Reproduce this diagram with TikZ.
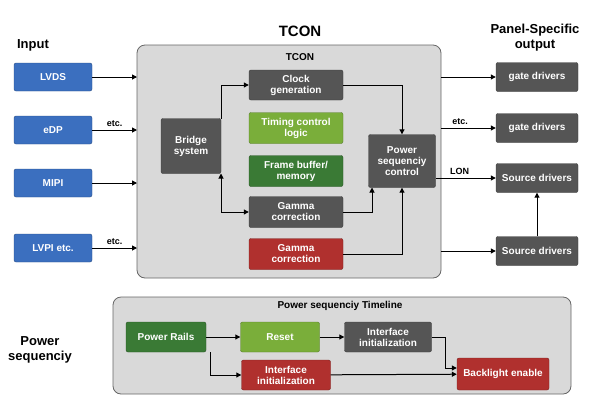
\documentclass[tikz,border=0pt]{standalone}
\usepackage{fontspec}
\setmainfont{Liberation Sans}
\usetikzlibrary{arrows.meta}
\definecolor{bl}{HTML}{3B6FBF}
\definecolor{dg}{HTML}{555555}
\definecolor{lg}{HTML}{7AAE3A}
\definecolor{gg}{HTML}{3A7A35}
\definecolor{rd}{HTML}{B0302E}
\begin{document}
\begin{tikzpicture}[x=1pt,y=-1pt,
 box/.style={draw=#1!70!black,fill=#1,rounded corners=2pt,text=white,font=\bfseries\fontsize{10}{11}\selectfont,align=center,inner sep=1pt},
 panel/.style={draw=gray!80!black,fill=gray!30,rounded corners=8pt,line width=0.8pt},
 ar/.style={-{Triangle[length=5pt,width=5pt]},line width=1pt},
 ttl/.style={font=\bfseries\fontsize{13}{15}\selectfont,align=center},
 lab/.style={font=\bfseries\fontsize{9}{10}\selectfont}]
\useasboundingbox (0,0) rectangle (600,400);
\node[ttl] (tin) at (33,45) {Input};
\node[ttl,font=\bfseries\fontsize{15}{17}\selectfont] (ttc) at (300,31) {TCON};
\node[ttl] (tout) at (535,38) {Panel-Specific\\output};
\node[ttl] (tps) at (40,350) {Power\\sequenciy};
\draw[panel] (137,45) rectangle (441,278);
\node[lab,font=\bfseries\fontsize{10}{11}\selectfont] (pt) at (300,57) {TCON};
% inputs
\node[box=bl,minimum width=78,minimum height=28] (lvds) at (53,77) {LVDS};
\node[box=bl,minimum width=78,minimum height=28] (edp) at (53,130) {eDP};
\node[box=bl,minimum width=78,minimum height=28] (mipi) at (53,183) {MIPI};
\node[box=bl,minimum width=78,minimum height=28] (lvpi) at (53,248) {LVPI etc.};
\coordinate (i1) at (137,77);\coordinate (i2) at (137,130);\coordinate (i3) at (137,183);\coordinate (i4) at (137,248);
\draw[ar] (lvds) -- (i1);
\draw[ar] (edp) -- node[lab,above]{etc.} (i2);
\draw[ar] (mipi) -- (i3);
\draw[ar] (lvpi) -- node[lab,above]{etc.} (i4);
% inner
\node[box=dg,minimum width=60,minimum height=55] (br) at (191,146) {Bridge\\system};
\node[box=dg,minimum width=94,minimum height=30] (clk) at (296,85) {Clock\\generation};
\node[box=lg,minimum width=94,minimum height=31] (tim) at (296,128) {Timing control\\logic};
\node[box=gg,minimum width=94,minimum height=31] (fb) at (296,171) {Frame buffer/\\memory};
\node[box=dg,minimum width=94,minimum height=31] (gm) at (296,212) {Gamma\\correction};
\node[box=rd,minimum width=94,minimum height=31] (gr) at (296,254) {Gamma\\correction};
\node[box=dg,minimum width=67,minimum height=53] (psc) at (402,161) {Power\\sequenciy\\control};
\draw[ar] (221,118.5) -- (221,85) -- (clk.west);
\draw[ar] (221,212) -- (221,173.5);
\draw[ar] (221,185) |- (gm.west);
\draw[ar] (clk.east) -| (psc.north);
\draw[ar] (gm.east) -| (372,187.5);
\draw[ar] (gr.east) -| (psc.south);
% outputs
\node[box=dg,minimum width=82,minimum height=29] (g1) at (537,77) {gate drivers};
\node[box=dg,minimum width=82,minimum height=29] (g2) at (537,128) {gate drivers};
\node[box=dg,minimum width=82,minimum height=29] (s1) at (537,178) {Source drivers};
\node[box=dg,minimum width=82,minimum height=29] (s2) at (537,251) {Source drivers};
\coordinate (o1) at (441,77);\coordinate (o2) at (441,128);\coordinate (o4) at (441,251);
\draw[ar] (o1) -- (g1);
\draw[ar] (o2) -- node[lab,above,pos=0.35]{etc.} (g2);
\draw[ar] (psc.east|-s1) -- node[lab,above,pos=0.4]{LON} (s1);
\draw[ar] (o4) -- (s2);
\draw[ar] (s2) -- (s1);
% bottom
\draw[panel] (113,297) rectangle (571,394);
\node[lab,font=\bfseries\fontsize{10}{11}\selectfont] (bt) at (340,306) {Power sequenciy Timeline};
\node[box=gg,minimum width=80,minimum height=30] (pr) at (166,337) {Power Rails};
\node[box=lg,minimum width=79,minimum height=30] (rs) at (280,337) {Reset};
\node[box=dg,minimum width=87,minimum height=30] (ii) at (388,337) {Interface\\initialization};
\node[box=rd,minimum width=89,minimum height=30] (ir) at (286,375) {Interface\\initialization};
\node[box=rd,minimum width=92,minimum height=32] (bk) at (503,374) {Backlight enable};
\draw[ar] (pr) -- (rs);
\draw[ar] (rs) -- (ii);
\draw[ar] (210,352) |- (ir.west);
\draw[ar] (ir) -- (bk);
\draw[ar] (ii.east) -- (445,337) |- (bk.west|-0,368);
\end{tikzpicture}
\end{document}
